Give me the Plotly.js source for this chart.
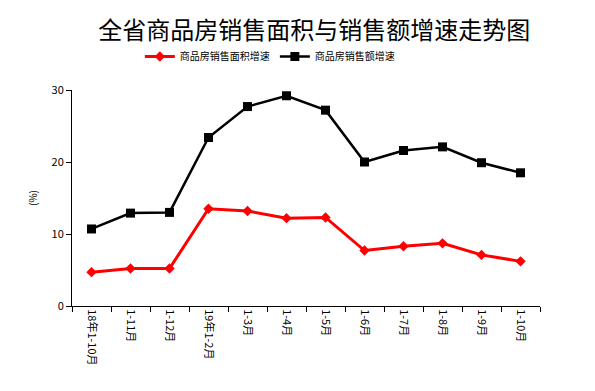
<!DOCTYPE html>
<html><head><meta charset="utf-8">
<script src="https://cdn.plot.ly/plotly-3.0.1.min.js"></script>
<style>html,body{margin:0;padding:0;background:#fff;}#chart{width:595px;height:391px;}</style>
</head><body><div id="chart"></div>
<script>
var categories = ["18年1-10月","1-11月","1-12月","19年1-2月","1-3月","1-4月","1-5月","1-6月","1-7月","1-8月","1-9月","1-10月"];
var areaGrowth = [4.7, 5.2, 5.2, 13.5, 13.2, 12.2, 12.3, 7.7, 8.3, 8.7, 7.1, 6.2];
var salesGrowth = [10.7, 12.9, 13.0, 23.4, 27.7, 29.2, 27.2, 20.0, 21.6, 22.1, 19.9, 18.5];
var yTicks = [0, 10, 20, 30];
var font = "'Noto Sans CJK SC', 'DejaVu Sans', sans-serif";
var traces = [
  {x: categories, y: areaGrowth, name: "商品房销售面积增速", type: "scatter", mode: "lines+markers",
   line: {color: "#ff0000", width: 3}, marker: {symbol: "diamond", size: 8, color: "#ff0000"}},
  {x: categories, y: salesGrowth, name: "商品房销售额增速", type: "scatter", mode: "lines+markers",
   line: {color: "#000000", width: 2.5}, marker: {symbol: "square", size: 9, color: "#000000"}}
];
var layout = {
  width: 595, height: 391,
  margin: {l: 72, r: 55, t: 90, b: 85},
  paper_bgcolor: "#fff", plot_bgcolor: "#fff",
  title: {text: "全省商品房销售面积与销售额增速走势图", x: 0.528, xanchor: "center", y: 0.923, yanchor: "middle",
          font: {family: font, size: 24, color: "#000"}},
  showlegend: true,
  legend: {orientation: "h", x: 0.145, xanchor: "left", y: 1.155, yanchor: "middle",
           font: {family: font, size: 10, color: "#000"}, itemwidth: 30, tracegroupgap: 0},
  xaxis: {type: "category", tickangle: 90, showline: true, linecolor: "#000", linewidth: 1,
          ticks: "outside", ticklen: 5, tickcolor: "#000", tickson: "boundaries",
          showgrid: false, zeroline: false, tickfont: {family: font, size: 11, color: "#000"},
          range: [-0.5, 11.5]},
  yaxis: {range: [0, 30], tickvals: yTicks, showline: true, linecolor: "#000", linewidth: 1,
          ticks: "outside", ticklen: 5, tickcolor: "#000", showgrid: false, zeroline: false,
          tickfont: {family: font, size: 11, color: "#000"},
          title: {text: "(%)", font: {family: font, size: 10, color: "#000"}, standoff: 12}}
};
Plotly.newPlot("chart", traces, layout, {displayModeBar: false, staticPlot: true});
</script></body></html>
